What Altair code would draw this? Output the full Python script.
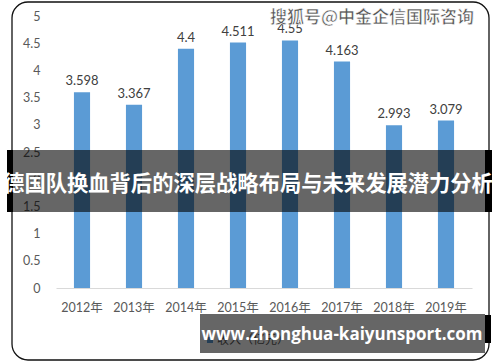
import altair as alt
import pandas as pd

years = ["2012年", "2013年", "2014年", "2015年", "2016年", "2017年", "2018年", "2019年"]
values = [3.598, 3.367, 4.4, 4.511, 4.55, 4.163, 2.993, 3.079]
labels = ["3.598", "3.367", "4.4", "4.511", "4.55", "4.163", "2.993", "3.079"]
y_ticks = [0, 0.5, 1, 1.5, 2, 2.5, 3, 3.5, 4, 4.5, 5]
title_text = "德国队换血背后的深层战略布局与未来发展潜力分析"
watermark = "搜狐号@中金企信国际咨询"
site = "www.zhonghua-kaiyunsport.com"
legend_text = "收入（亿元）"

df = pd.DataFrame({"year": years, "value": values, "label": labels})
one = pd.DataFrame({"a": [0]})

FONT = "Lato, Noto Sans CJK SC, sans-serif"
W, H = 416, 272

yscale = alt.Scale(domain=[0, 5], nice=False)
x = alt.X("year:N", sort=years, title=None,
          scale=alt.Scale(paddingInner=0.69, paddingOuter=0.345),
          axis=alt.Axis(labelAngle=0, ticks=False, domainColor="#d9d9d9", domainWidth=1.2,
                        labelColor="#595959", labelFontSize=12.5, labelFont=FONT,
                        labelPadding=13, grid=False))
y = alt.Y("value:Q", title=None, scale=yscale,
          axis=alt.Axis(values=y_ticks, format="~g", ticks=False, domain=False,
                        grid=False, labelOverlap=False, labelFlush=False,
                        labelColor="#595959", labelFontSize=12.5, labelFont=FONT,
                        labelPadding=16))

dbase = alt.Chart(df).encode(x=x, y=y)
bars = dbase.mark_bar(color="#5b9bd5")
text = dbase.mark_text(baseline="bottom", dy=-4, fontSize=13, font=FONT,
                       color="#404040").encode(text="label:N")

base = alt.Chart(one)

frame = base.mark_rect(fill=None, stroke="#111", strokeWidth=1.3, cornerRadius=16).encode(
    x=alt.value(-44), x2=alt.value(433), y=alt.value(-14), y2=alt.value(344))

wm = base.mark_text(text=watermark, fontSize=17, font="Noto Sans CJK SC", fontWeight="bold",
                    color="#555", stroke="#ffffff", strokeWidth=0.6, align="center",
                    baseline="middle").encode(x=alt.value(316), y=alt.value(2))

# legend remnants under bottom overlay
leg_sq = base.mark_rect(color="#5b9bd5").encode(
    x=alt.value(151), x2=alt.value(157), y=alt.value(321), y2=alt.value(327))
leg_tx = base.mark_text(text=legend_text, fontSize=12, font=FONT, color="#595959",
                        align="left", baseline="middle").encode(x=alt.value(161), y=alt.value(324))

# title banner
ban_l = base.mark_rect(color="#000").encode(
    x=alt.value(-49), x2=alt.value(-43), y=alt.value(134), y2=alt.value(196))
ban_r = base.mark_rect(color="#000").encode(
    x=alt.value(429), x2=alt.value(436), y=alt.value(134), y2=alt.value(196))
ban = base.mark_rect(color="#000", opacity=0.6).encode(
    x=alt.value(-43), x2=alt.value(429), y=alt.value(134), y2=alt.value(196))
ban_t = base.mark_text(text=title_text, fontSize=21.3, font="Noto Sans CJK SC", fontWeight="bold",
                       color="#ffffff", align="center", baseline="middle").encode(
    x=alt.value(192), y=alt.value(169))

# site box
box_r = base.mark_rect(color="#000").encode(
    x=alt.value(429), x2=alt.value(435), y=alt.value(299), y2=alt.value(327))
box = base.mark_rect(color="#000", opacity=0.6).encode(
    x=alt.value(144), x2=alt.value(429), y=alt.value(298), y2=alt.value(337))
box_t = base.mark_text(text=site, fontSize=17, font="Open Sans, DejaVu Sans", fontWeight="bold",
                       color="#ffffff", align="center", baseline="middle").encode(
    x=alt.value(286), y=alt.value(319))

chart = alt.layer(bars, text, frame, wm, leg_sq, leg_tx, ban_l, ban_r, ban, ban_t,
                  box_r, box, box_t).properties(
    width=W, height=H,
    autosize=alt.AutoSizeParams(type="none"),
    padding={"left": 56, "top": 16, "right": 28, "bottom": 74},
    background="#ffffff",
).configure_view(stroke=None)

chart.save("out.html", embed_options={"renderer": "svg", "actions": False})
